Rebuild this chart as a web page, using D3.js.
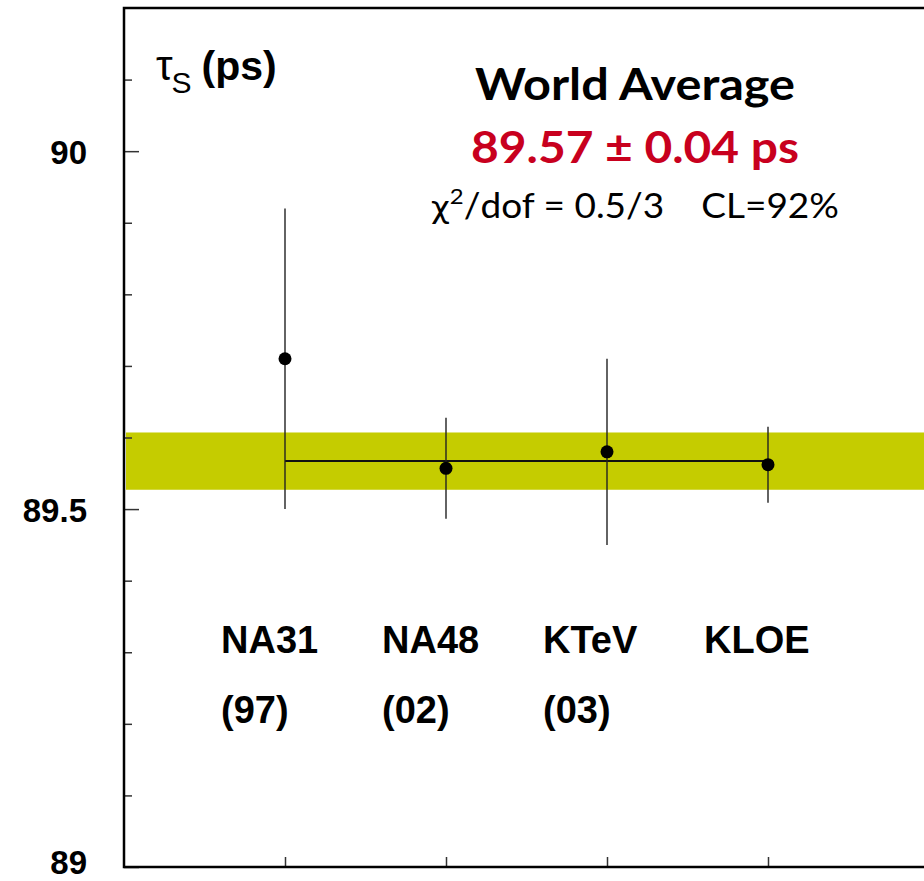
<!DOCTYPE html>
<html>
<head>
<meta charset="utf-8">
<script src="https://cdn.jsdelivr.net/npm/d3@7"></script>
<style>
html,body{margin:0;padding:0;background:#fff;}
svg{display:block;}
</style>
</head>
<body>
<svg id="chart" width="924" height="881"></svg>
<script>
// ---- data ----
const experiments = ["NA31", "NA48", "KTeV", "KLOE"];
const years = ["(97)", "(02)", "(03)", ""];
const values = [89.71, 89.557, 89.58, 89.562];
const errors = [0.21, 0.0705, 0.13, 0.053];
const average = 89.567;
const averageErr = 0.04;
const yMajorTicks = [89, 89.5, 90];
const yMinorTicks = [89.1, 89.2, 89.3, 89.4, 89.6, 89.7, 89.8, 89.9, 90.1];
const titleText = "World Average";
const resultText = "89.57 \u00B1 0.04 ps";

const svg = d3.select("#chart");
const x = d3.scaleLinear().domain([0, 5]).range([124, 929]);
const y = d3.scaleLinear().domain([89, 90.2]).range([867, 8]);

// band
svg.append("rect")
  .attr("x", x(0) + 2).attr("width", x(5) - x(0) - 2)
  .attr("y", y(average + averageErr))
  .attr("height", y(average - averageErr) - y(average + averageErr))
  .attr("fill", "#c5cc00");

// y axis major
const yMajor = d3.axisLeft(y).tickValues(yMajorTicks).tickSizeInner(-15).tickSizeOuter(0).tickPadding(37)
  .tickFormat(d => d3.format("~g")(d));
const gy = svg.append("g").attr("transform", `translate(${x(0)},0)`).call(yMajor);
gy.select(".domain").remove();
gy.selectAll(".tick line").attr("stroke", "#333").attr("stroke-width", 1.5);
gy.selectAll(".tick text").attr("font-family", "Liberation Sans, Arial, sans-serif")
  .attr("font-weight", "bold").attr("font-size", 33).attr("fill", "#000")
  .attr("dy", d => d === 89 ? "0.2em" : "0.38em");

// y axis minor
const yMinor = d3.axisLeft(y).tickValues(yMinorTicks).tickSizeInner(-8).tickSizeOuter(0).tickFormat("");
const gym = svg.append("g").attr("transform", `translate(${x(0)},0)`).call(yMinor);
gym.select(".domain").remove();
gym.selectAll(".tick line").attr("stroke", "#333").attr("stroke-width", 1.5);

// x axis ticks
const xAxis = d3.axisBottom(x).tickValues([1, 2, 3, 4]).tickSizeInner(-10).tickSizeOuter(0).tickFormat("");
const gx = svg.append("g").attr("transform", `translate(0,${y(89)})`).call(xAxis);
gx.select(".domain").remove();
gx.selectAll(".tick line").attr("stroke", "#333").attr("stroke-width", 1.5);

// frame
svg.append("rect")
  .attr("x", x(0)).attr("y", y(90.2))
  .attr("width", x(5) - x(0)).attr("height", y(89) - y(90.2))
  .attr("fill", "none").attr("stroke", "#000").attr("stroke-width", 2.5);

// average line
svg.append("line")
  .attr("x1", x(1)).attr("x2", x(4))
  .attr("y1", y(average)).attr("y2", y(average))
  .attr("stroke", "#111").attr("stroke-width", 2);

// error bars
const idx = d3.range(experiments.length);
svg.selectAll(".err").data(idx).join("line")
  .attr("class", "err")
  .attr("x1", i => x(i + 1)).attr("x2", i => x(i + 1))
  .attr("y1", i => y(values[i] + errors[i])).attr("y2", i => y(values[i] - errors[i]))
  .attr("stroke", "#222").attr("stroke-width", 1.4);

svg.selectAll(".pt").data(idx).join("circle")
  .attr("class", "pt")
  .attr("cx", i => x(i + 1)).attr("cy", i => y(values[i]))
  .attr("r", 6.5).attr("fill", "#000");

// experiment labels
svg.selectAll(".lab").data(idx).join("text")
  .attr("class", "lab")
  .attr("x", i => x(i + 1) - 64).attr("y", 653)
  .attr("font-family", "Liberation Sans, Arial, sans-serif")
  .attr("font-weight", "bold").attr("font-size", 38)
  .text(i => experiments[i]);
svg.selectAll(".yr").data(idx).join("text")
  .attr("class", "yr")
  .attr("x", i => x(i + 1) - 64).attr("y", 723)
  .attr("font-family", "Liberation Sans, Arial, sans-serif")
  .attr("font-weight", "bold").attr("font-size", 38)
  .text(i => years[i]);

// axis title tau_S (ps)
const t = svg.append("text").attr("x", 156).attr("y", 80)
  .attr("font-family", "Liberation Sans, Arial, sans-serif");
t.append("tspan").attr("font-size", 42).text("\u03C4");
t.append("tspan").attr("font-size", 30).attr("dy", 13).attr("dx", -1).text("S");
t.append("tspan").attr("font-size", 41).attr("font-weight", "bold").attr("dy", -13).attr("dx", 10).text("(ps)");

// title block
function fit(sel, w) {
  const L = sel.node().getComputedTextLength();
  if (Math.abs(L - w) > 2) sel.attr("textLength", w).attr("lengthAdjust", "spacingAndGlyphs");
}
const cx = 635;
const t1 = svg.append("text").attr("x", cx).attr("y", 100).attr("text-anchor", "middle")
  .attr("font-family", "Lato, Open Sans, sans-serif").attr("font-weight", "bold").attr("font-size", 43)
  .attr("fill", "#000").text(titleText);
fit(t1, 320);
const t2 = svg.append("text").attr("x", cx).attr("y", 163).attr("text-anchor", "middle")
  .attr("font-family", "Lato, Open Sans, sans-serif").attr("font-weight", "bold").attr("font-size", 43)
  .attr("fill", "#c8001e").text(resultText);
fit(t2, 328);
const t3 = svg.append("text").attr("x", cx).attr("y", 218).attr("text-anchor", "middle")
  .attr("font-family", "Lato, Open Sans, sans-serif").attr("font-size", 34).attr("fill", "#000");
t3.append("tspan").attr("font-family", "DejaVu Sans, sans-serif").attr("font-size", 30).text("\u03C7");
t3.append("tspan").attr("font-size", 22).attr("dy", -14).text("2");
t3.append("tspan").attr("dy", 14).text("/dof = 0.5/3\u2002\u2002CL=92%");
fit(t3, 408);
</script>
</body>
</html>
